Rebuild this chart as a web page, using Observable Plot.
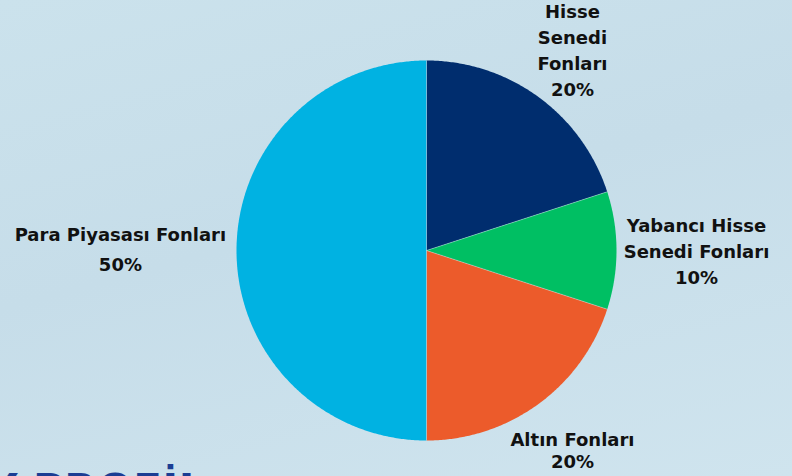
<!DOCTYPE html>
<html>
<head>
<meta charset="utf-8">
<script src="https://cdn.jsdelivr.net/npm/d3@7"></script>
<script src="https://cdn.jsdelivr.net/npm/@observablehq/plot@0.6"></script>
<style>
  html, body { margin: 0; padding: 0; }
  body {
    width: 792px; height: 476px; overflow: hidden; position: relative;
    background: linear-gradient(165deg, #cbe2ec 0%, #c6dde9 45%, #cfe4ee 100%);
    font-family: "DejaVu Sans", sans-serif;
  }
  #chart { position: absolute; left: 0; top: 0; }
  #banner {
    position: absolute; left: -13px; top: 469px; white-space: nowrap;
    font: bold 42px/42px "DejaVu Sans", sans-serif; color: #1b3d93; letter-spacing: 0.5px;
  }
</style>
</head>
<body>
<div id="chart"></div>
<div id="banner">Y PROFİL</div>
<script>
// ---- data ----
const names = ["Hisse Senedi Fonları", "Yabancı Hisse Senedi Fonları", "Altın Fonları", "Para Piyasası Fonları"];
const shares = [20, 10, 20, 50];
const labelLines = [["Hisse", "Senedi", "Fonları"], ["Yabancı Hisse", "Senedi Fonları"], ["Altın Fonları"], ["Para Piyasası Fonları"]];
const colors = ["#002d6e", "#00bf63", "#ec5b2b", "#00b2e2"];

// ---- layout ----
const W = 792, H = 476, cx = 426, cy = 250, R = 190;
const labelRadius = [1.307, 1.421, 1.307, 1.611];  // in units of pie radius
const labelLineHeight = [1.44, 1.47, 1.22, 1.67];
const labelDy = [-1, -1, -1, -4];

const arcs = d3.pie().sort(null).value(d => d)(shares);
const rows = [];
arcs.forEach((a, i) => {
  rows.push({name: names[i], x: 0, y: 0});
  const n = Math.max(2, Math.ceil((a.endAngle - a.startAngle) / (Math.PI / 360)));
  for (let k = 0; k <= n; k++) {
    const t = a.startAngle + (a.endAngle - a.startAngle) * k / n;
    rows.push({name: names[i], x: Math.sin(t), y: -Math.cos(t)});
  }
});

const textMarks = arcs.map((a, i) => {
  const mid = (a.startAngle + a.endAngle) / 2;
  return Plot.text([i], {
    x: () => Math.sin(mid) * labelRadius[i],
    y: () => -Math.cos(mid) * labelRadius[i],
    text: () => [...labelLines[i], shares[i] + "%"].join("\n"),
    lineHeight: labelLineHeight[i],
    textAnchor: "middle",
    lineAnchor: "middle",
    dy: labelDy[i],
    fontSize: 18,
    fontWeight: 700,
    fill: "#111111"
  });
});

const chart = Plot.plot({
  width: W, height: H, margin: 0,
  style: {background: "transparent", overflow: "visible", fontFamily: "'DejaVu Sans', sans-serif"},
  x: {domain: [-cx / R, (W - cx) / R], range: [0, W], axis: null},
  y: {domain: [-cy / R, (H - cy) / R], range: [0, H], axis: null},
  color: {domain: names, range: colors},
  marks: [
    Plot.line(rows, {x: "x", y: "y", z: "name", fill: "name", stroke: "none", curve: "linear"}),
    Plot.link(arcs, {x1: 0, y1: 0, x2: d => Math.sin(d.startAngle), y2: d => -Math.cos(d.startAngle), stroke: "#dbe9f0", strokeWidth: 0.6, strokeOpacity: 0.7}),
    ...textMarks
  ]
});
document.getElementById("chart").appendChild(chart);
</script>
</body>
</html>
